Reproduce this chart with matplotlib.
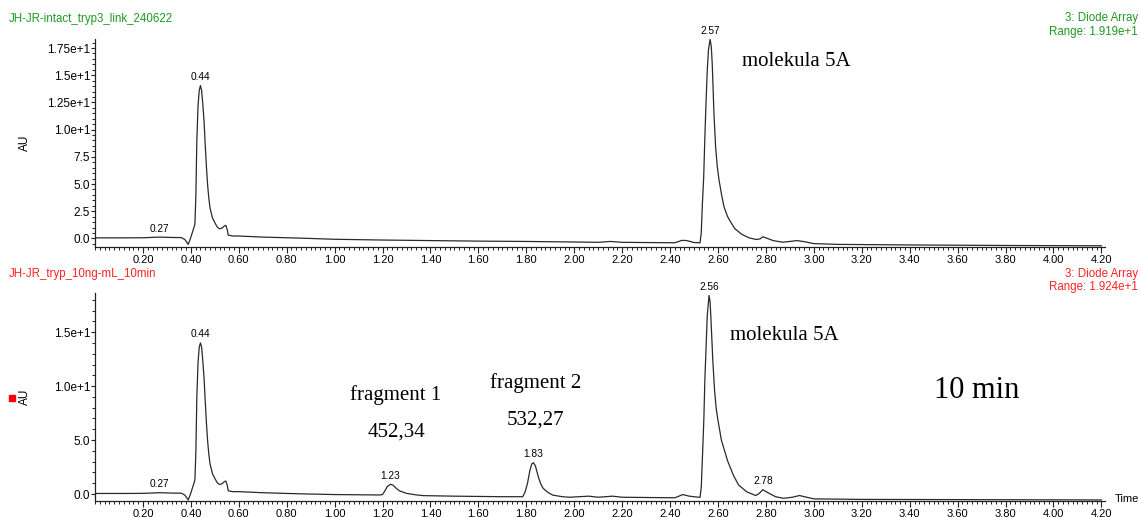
import numpy as np
import matplotlib
matplotlib.use('Agg')
import matplotlib.pyplot as plt
from matplotlib.ticker import MultipleLocator, FixedLocator, FixedFormatter

plt.rcParams['font.family'] = ['Liberation Sans', 'DejaVu Sans']

# --- trace 1: JH-JR-intact_tryp3_link_240622 (time [min], AU)
top_time = [0.00, 0.10, 0.20, 0.27, 0.33, 0.36, 0.375, 0.389, 0.40, 0.41,
            0.417, 0.421, 0.425, 0.43, 0.435, 0.44, 0.445, 0.45, 0.455, 0.46,
            0.465, 0.47, 0.475, 0.48, 0.49, 0.50, 0.51, 0.52, 0.53, 0.54,
            0.546, 0.552, 0.556, 0.575, 0.60, 0.70, 0.85, 1.00, 1.20, 1.40,
            1.60, 1.80, 2.00, 2.10, 2.15, 2.20, 2.30, 2.42, 2.45, 2.47,
            2.50, 2.525, 2.53, 2.535, 2.54, 2.546, 2.55, 2.555, 2.56, 2.567,
            2.572, 2.576, 2.583, 2.59, 2.597, 2.604, 2.615, 2.625, 2.64, 2.653,
            2.67, 2.70, 2.73, 2.76, 2.775, 2.787, 2.80, 2.83, 2.87, 2.90,
            2.93, 2.96, 3.00, 3.10, 3.40, 3.80, 4.20]
top_au = [0.05, 0.05, 0.06, 0.12, 0.08, 0.08, -0.10, -0.55, 0.10, 0.80,
          1.30, 4.00, 9.00, 12.2, 13.6, 14.05, 13.6, 12.3, 10.8, 8.6,
          6.6, 4.9, 3.7, 2.8, 1.9, 1.45, 1.05, 0.88, 0.95, 1.15,
          1.20, 0.80, 0.30, 0.22, 0.22, 0.12, 0.03, -0.08, -0.15, -0.20,
          -0.25, -0.28, -0.33, -0.36, -0.28, -0.36, -0.38, -0.40, -0.18, -0.20,
          -0.38, -0.40, 0.50, 3.3, 5.5, 9.9, 12.5, 15.4, 17.3, 18.3,
          17.6, 16.0, 11.5, 8.4, 6.6, 5.4, 4.0, 2.9, 2.0, 1.5,
          0.9, 0.36, 0.05, -0.10, -0.05, 0.15, 0.05, -0.20, -0.35, -0.28,
          -0.20, -0.30, -0.48, -0.55, -0.60, -0.65, -0.68]

# --- trace 2: JH-JR_tryp_10ng-mL_10min
bot_time = [0.00, 0.10, 0.20, 0.27, 0.33, 0.36, 0.375, 0.389, 0.40, 0.41,
            0.417, 0.421, 0.425, 0.43, 0.435, 0.44, 0.445, 0.45, 0.455, 0.46,
            0.465, 0.47, 0.475, 0.48, 0.49, 0.50, 0.51, 0.52, 0.53, 0.54,
            0.546, 0.552, 0.556, 0.575, 0.60, 0.70, 0.85, 1.00, 1.19, 1.20,
            1.21, 1.22, 1.233, 1.245, 1.257, 1.27, 1.30, 1.34, 1.37, 1.50,
            1.70, 1.785, 1.795, 1.805, 1.815, 1.823, 1.83, 1.838, 1.85, 1.86,
            1.87, 1.89, 1.91, 1.95, 1.98, 2.06, 2.10, 2.16, 2.20, 2.42,
            2.453, 2.48, 2.52, 2.525, 2.53, 2.535, 2.541, 2.545, 2.55, 2.555,
            2.5625, 2.567, 2.571, 2.578, 2.585, 2.592, 2.60, 2.614, 2.64, 2.665,
            2.686, 2.72, 2.757, 2.772, 2.787, 2.81, 2.84, 2.874, 2.91, 2.94,
            2.97, 3.00, 3.20, 3.60, 4.20]
bot_au = [0.05, 0.05, 0.06, 0.12, 0.08, 0.08, -0.10, -0.55, 0.10, 0.80,
          1.30, 4.00, 9.00, 12.2, 13.6, 14.0, 13.6, 12.3, 10.8, 8.6,
          6.6, 4.9, 3.7, 2.8, 1.9, 1.45, 1.05, 0.88, 0.95, 1.15,
          1.20, 0.80, 0.30, 0.22, 0.22, 0.12, 0.02, -0.05, -0.09, -0.05,
          0.30, 0.70, 0.90, 0.80, 0.53, 0.30, 0.06, -0.08, -0.15, -0.20,
          -0.25, -0.25, 0.20, 1.00, 2.20, 2.80, 2.90, 2.60, 1.60, 0.95,
          0.53, 0.15, -0.10, -0.25, -0.30, -0.20, -0.30, -0.20, -0.30, -0.35,
          -0.05, -0.20, -0.30, -0.30, 0.60, 3.4, 7.0, 10.5, 13.5, 16.5,
          18.4, 17.8, 16.0, 12.5, 9.8, 8.0, 6.8, 5.0, 3.07, 1.7,
          0.83, 0.20, -0.14, 0.05, 0.40, 0.10, -0.25, -0.40, -0.30, -0.14,
          -0.30, -0.45, -0.50, -0.52, -0.55]

# peak labels (time, apex value)
top_peaks = [(0.27, 0.12, '0.27'), (0.44, 14.05, '0.44'), (2.567, 18.3, '2.57')]
bot_peaks = [(0.27, 0.12, '0.27'), (0.44, 14.0, '0.44'), (1.233, 0.9, '1.23'),
             (1.83, 2.9, '1.83'), (2.5625, 18.4, '2.56'), (2.787, 0.4, '2.78')]

x_ticks = [0.2 * i for i in range(1, 22)]
top_yticks = [0.0, 2.5, 5.0, 7.5, 10.0, 12.5, 15.0, 17.5]
top_ylabels = ['0.0', '2.5', '5.0', '7.5', '1.0e+1', '1.25e+1', '1.5e+1', '1.75e+1']
bot_yticks = [0.0, 5.0, 10.0, 15.0]
bot_ylabels = ['0.0', '5.0', '1.0e+1', '1.5e+1']

GREEN = '#1d9a22'
RED = '#ff2222'
LINE = '#2a2a2a'
W, H = 1141, 517


def px(x, y):
    return x / W, 1 - y / H


def style_axes(ax, yticks, ylabels, yminor, ylim):
    ax.set_xlim(0, 4.215)
    ax.set_ylim(*ylim)
    for s in ['top', 'right']:
        ax.spines[s].set_visible(False)
    for s in ['left', 'bottom']:
        ax.spines[s].set_linewidth(0.9)
        ax.spines[s].set_color('#222222')
    ax.xaxis.set_major_locator(FixedLocator(x_ticks))
    ax.xaxis.set_major_formatter(FixedFormatter(['%.2f' % v for v in x_ticks]))
    ax.xaxis.set_minor_locator(MultipleLocator(0.02))
    ax.yaxis.set_major_locator(FixedLocator(yticks))
    ax.yaxis.set_major_formatter(FixedFormatter(ylabels))
    ax.yaxis.set_minor_locator(MultipleLocator(yminor))
    ax.tick_params(axis='x', which='major', direction='out', length=4.5, width=0.8,
                   labelsize=8, pad=1.5, colors='#222222')
    ax.tick_params(axis='x', which='minor', direction='out', length=2.5, width=0.7,
                   colors='#222222')
    ax.tick_params(axis='y', which='major', direction='out', length=3, width=0.8,
                   labelsize=8.5, pad=0.5, colors='#222222')
    ax.tick_params(axis='y', which='minor', direction='out', length=2, width=0.7,
                   colors='#222222')
    for lab in ax.get_xticklabels() + ax.get_yticklabels():
        lab.set_color('black')


def label_peaks(ax, peaks):
    for t, v, txt in peaks:
        ax.annotate(txt, xy=(t, v), xytext=(0, 2.5), textcoords='offset points',
                    ha='center', va='bottom', fontsize=7.3, color='black')


fig = plt.figure(figsize=(11.41, 5.17), dpi=100)

# top panel
ax1 = fig.add_axes([95 / W, 1 - 247 / H, 1010 / W, 208 / H])
ax1.plot(top_time, top_au, color=LINE, lw=0.9)
style_axes(ax1, top_yticks, top_ylabels, 0.5, (-0.79, 18.33))
label_peaks(ax1, top_peaks)
ax1.text(2.70, 16.3, 'molekula 5A', family='Liberation Serif', fontsize=15,
         ha='left', va='center')

# bottom panel
ax2 = fig.add_axes([95 / W, 1 - 500.7 / H, 1010 / W, 207.4 / H])
ax2.plot(bot_time, bot_au, color=LINE, lw=0.9)
style_axes(ax2, bot_yticks, bot_ylabels, 1.0, (-0.62, 18.6))
label_peaks(ax2, bot_peaks)
serif = dict(family='Liberation Serif', ha='center', va='center')
ax2.text(2.65, 14.7, 'molekula 5A', fontsize=15, **{**serif, 'ha': 'left'})
ax2.text(1.255, 9.17, 'fragment 1', fontsize=15, **serif)
ax2.text(1.26, 5.77, '452,34', fontsize=15, **serif)
ax2.text(1.84, 10.25, 'fragment 2', fontsize=15, **serif)
ax2.text(1.84, 6.85, '532,27', fontsize=15, **serif)
ax2.text(3.68, 9.6, '10 min', fontsize=22, **serif)

# headers
fig.text(*px(9, 19), 'JH-JR-intact_tryp3_link_240622', color=GREEN, fontsize=8.3,
         ha='left', va='center')
fig.text(*px(1138, 18), '3: Diode Array', color=GREEN, fontsize=8.3, ha='right', va='center')
fig.text(*px(1138, 32), 'Range: 1.919e+1', color=GREEN, fontsize=8.3, ha='right', va='center')
fig.text(*px(9, 274), 'JH-JR_tryp_10ng-mL_10min', color=RED, fontsize=8.3,
         ha='left', va='center')
fig.text(*px(1138, 274), '3: Diode Array', color=RED, fontsize=8.3, ha='right', va='center')
fig.text(*px(1138, 287), 'Range: 1.924e+1', color=RED, fontsize=8.3, ha='right', va='center')

fig.text(*px(25, 143), 'AU', rotation=90, fontsize=8.5, ha='center', va='center')
fig.text(*px(25, 397), 'AU', rotation=90, fontsize=8.5, ha='center', va='center')
fig.patches.append(plt.Rectangle(px(9, 401), 6 / W, 6 / H, transform=fig.transFigure,
                                 color='#ff0000', figure=fig))
fig.text(*px(1139, 499), 'Time', fontsize=8, ha='right', va='center')

fig.savefig('out.png', dpi=100)
